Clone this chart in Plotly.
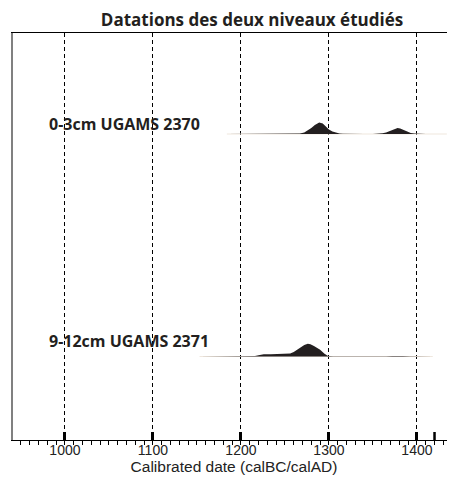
import plotly.graph_objects as go

# ---- data ----
title = "Datations des deux niveaux étudiés"
x_title = "Calibrated date (calBC/calAD)"
tick_vals = [1000, 1100, 1200, 1300, 1400]
extra_ticks = [1420]

labels = ["0-3cm UGAMS 2370", "9-12cm UGAMS 2371"]

# sample 1 : 0-3cm UGAMS 2370 (relative probability)
dates1 = [1184, 1200, 1220, 1240, 1250, 1258, 1264, 1267, 1272, 1276, 1280, 1284, 1287, 1289,
          1293, 1296, 1300, 1304, 1308, 1312, 1316, 1320, 1330, 1340, 1350, 1356, 1361, 1365,
          1369, 1373, 1376, 1378, 1381, 1385, 1389, 1393, 1397, 1400, 1410, 1420, 1434]
prob1 = [0, 0, 0, 0, 0.05, 0.15, 0.35, 0.5, 1.5, 3.5, 6, 9, 11, 11.5,
         10.5, 8, 4.5, 2.5, 1.3, 0.6, 0.3, 0.15, 0.08, 0.05, 0.08, 0.25, 0.7, 1.6,
         3, 4.5, 5.5, 6, 5.5, 4, 2.3, 1.1, 0.4, 0.15, 0.03, 0, 0]

# sample 2 : 9-12cm UGAMS 2371
dates2 = [1153, 1180, 1200, 1210, 1216, 1220, 1226, 1234, 1242, 1250, 1256, 1260, 1264, 1267,
          1272, 1276, 1279, 1283, 1287, 1290, 1295, 1299, 1305, 1320, 1350, 1365, 1372, 1378,
          1384, 1392, 1405, 1418]
prob2 = [0, 0, 0, 0.1, 0.5, 1.2, 2.2, 2.3, 2.4, 2.6, 3, 4.5, 7, 8.7,
         11.5, 12.7, 12.3, 10.5, 8.5, 6.7, 2.8, 0.6, 0.2, 0.08, 0.08, 0.25, 0.5, 0.7,
         0.5, 0.2, 0.05, 0]

# ---- style / layout ----
OFF = 8  # default page body margin
W, H = 455 - OFF, 482 - OFF
ML, MR, MT, MB = 13 - OFF, 0, 33 - OFF, 42
YMAX = H - MT - MB
bases = [306, 83.5]
dark = "#231f20"
tail = "#efe7de"

fig = go.Figure()

for dates, prob, base in [(dates1, prob1, bases[0]), (dates2, prob2, bases[1])]:
    # faint full-range tail line
    fig.add_trace(go.Scatter(x=[dates[0], dates[-1]], y=[base, base], mode="lines",
                             line=dict(color=tail, width=1.2), hoverinfo="skip", showlegend=False))
    xs = list(dates) + list(reversed(dates))
    ys = [base + p for p in prob] + [base] * len(dates)
    fig.add_trace(go.Scatter(x=xs, y=ys, mode="lines", fill="toself", fillcolor=dark,
                             line=dict(color=dark, width=0), hoverinfo="skip", showlegend=False))

# label annotations
for lab, yv in zip(labels, [bases[0] + 10.5, bases[1] + 15.5]):
    fig.add_annotation(text=f"<b>{lab}</b>", x=(47 - 13) / (W - ML - MR), xref="paper",
                       y=yv, yref="y", xanchor="left", yanchor="middle", showarrow=False,
                       font=dict(family="Open Sans", size=16, color="#231f20"))

for t in extra_ticks:
    fig.add_shape(type="line", x0=t, x1=t, y0=0, y1=8, xref="x", yref="y",
                  line=dict(color="black", width=2.5))

fig.update_layout(
    width=W, height=H,
    margin=dict(l=ML, r=MR, t=MT, b=MB, autoexpand=False),
    paper_bgcolor="white", plot_bgcolor="white",
    title=dict(text=f"<b>{title}</b>", x=(252 - OFF) / W, xanchor="center", xref="container",
               y=1 - (20 - OFF) / H, yanchor="middle", yref="container",
               font=dict(family="Open Sans", size=17, color="#231f20")),
    showlegend=False,
)
fig.update_xaxes(
    range=[941, 941 + (W - ML - MR) / 0.88], automargin=False,
    tickvals=tick_vals, ticks="inside", ticklen=8, tickwidth=2.5, tickcolor="black",
    showline=True, linecolor="black", linewidth=1.2, mirror=True,
    showgrid=True, gridcolor="black", gridwidth=1, griddash="4px,3px",
    minor=dict(dtick=10, tick0=0, ticks="outside", ticklen=4, tickwidth=1, tickcolor="black", showgrid=False),
    tickfont=dict(family="Liberation Sans", size=14, color="#222"),
    ticklabelstandoff=-3,
    title=dict(text=x_title, font=dict(family="Liberation Sans", size=15.5, color="#222"), standoff=2),
    zeroline=False,
)
fig.update_yaxes(
    range=[0, YMAX], automargin=False, showgrid=False, zeroline=False, showticklabels=False, ticks="",
    showline=True, linecolor="#808080", linewidth=2, mirror=False,
)

fig.write_html("out.html")
